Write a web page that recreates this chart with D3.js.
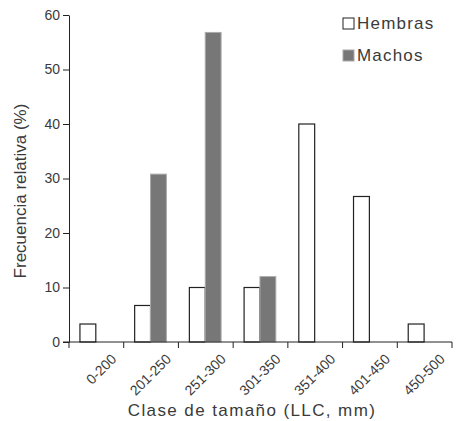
<!DOCTYPE html>
<html>
<head>
<meta charset="utf-8">
<script src="https://cdn.jsdelivr.net/npm/d3@7"></script>
<style>
  html, body { margin: 0; padding: 0; background: #fff; }
  svg { display: block; }
  text { font-family: 'Liberation Sans', Arial, sans-serif; fill: #3a3a3a; }
</style>
</head>
<body>
<div id="chart"></div>
<script>
// Data
const categories = ['0-200', '201-250', '251-300', '301-350', '351-400', '401-450', '450-500'];
const hembras = [3.3, 6.7, 10, 10, 40, 26.7, 3.3];
const machos = [0, 30.8, 56.8, 12, 0, 0, 0];
const yTicks = [0, 10, 20, 30, 40, 50, 60];
const seriesNames = ['Hembras', 'Machos'];

const width = 457, height = 421;
const margin = { top: 15, right: 5, bottom: 79, left: 69 };
const innerW = width - margin.left - margin.right;
const innerH = height - margin.top - margin.bottom;

const svg = d3.select('#chart')
  .append('svg')
  .attr('width', width)
  .attr('height', height);

const g = svg.append('g')
  .attr('transform', `translate(${margin.left}, ${margin.top})`);

// Scales
const x = d3.scaleBand()
  .domain(categories)
  .range([0, innerW])
  .padding(0);

const y = d3.scaleLinear()
  .domain([0, 60])
  .range([innerH, 0]);

const barW = x.bandwidth() * 0.29;
const barOffset = x.bandwidth() * 0.2;

// Hembras bars
g.selectAll('.bar-h')
  .data(hembras)
  .enter()
  .append('rect')
  .attr('class', 'bar-h')
  .attr('x', (d, i) => x(categories[i]) + barOffset)
  .attr('y', d => y(d))
  .attr('width', barW)
  .attr('height', d => innerH - y(d))
  .style('fill', '#fff')
  .style('stroke', '#222')
  .style('stroke-width', 1.2);

// Machos bars (skip empty classes)
const machosData = machos.map((v, i) => ({ cat: categories[i], v })).filter(d => d.v > 0);
g.selectAll('.bar-m')
  .data(machosData)
  .enter()
  .append('rect')
  .attr('class', 'bar-m')
  .attr('x', d => x(d.cat) + barOffset + barW)
  .attr('y', d => y(d.v))
  .attr('width', barW)
  .attr('height', d => innerH - y(d.v))
  .style('fill', '#777')
  .style('stroke', '#aaa')
  .style('stroke-width', 1);

// Y axis
const yAxis = d3.axisLeft(y).tickValues(yTicks).tickSize(6).tickPadding(3).tickSizeOuter(0);
const yG = g.append('g').call(yAxis);
yG.selectAll('text').style('font-size', '14px').style('fill', '#3a3a3a').style('font-family', "'Liberation Sans', Arial, sans-serif");
yG.selectAll('.domain').style('stroke', '#222');
yG.selectAll('.tick line').style('stroke', '#222');

// X axis: tick marks at band boundaries, labels rotated
const edges = categories.map(c => x(c)).concat([innerW]);
const xG = g.append('g').attr('transform', `translate(0, ${innerH})`);
xG.append('line')
  .attr('x1', -6).attr('x2', innerW)
  .attr('y1', 0).attr('y2', 0)
  .style('stroke', '#222');
xG.selectAll('.xtick')
  .data(edges)
  .enter()
  .append('line')
  .attr('class', 'xtick')
  .attr('x1', d => d).attr('x2', d => d)
  .attr('y1', 0).attr('y2', 6)
  .style('stroke', '#222');
xG.selectAll('.xlabel')
  .data(categories)
  .enter()
  .append('text')
  .attr('class', 'xlabel')
  .attr('transform', d => `translate(${x(d) + x.bandwidth() / 2 + 21}, ${18}) rotate(-45)`)
  .attr('text-anchor', 'end')
  .style('font-size', '14px')
  .text(d => d);

// Axis titles
svg.append('text')
  .attr('transform', `translate(26, 191) rotate(-90)`)
  .attr('text-anchor', 'middle')
  .style('font-size', '17px')
  .text('Frecuencia relativa (%)');

svg.append('text')
  .attr('x', 252)
  .attr('y', 416)
  .attr('text-anchor', 'middle')
  .style('font-size', '17px')
  .style('letter-spacing', '1.4px')
  .text('Clase de tamaño (LLC, mm)');

// Legend
const legend = svg.append('g')
  .attr('transform', 'translate(343, 18)');
const legendItems = legend.selectAll('.legend-item')
  .data(seriesNames)
  .enter()
  .append('g')
  .attr('class', 'legend-item')
  .attr('transform', (d, i) => `translate(0, ${i * 32})`);
legendItems.append('rect')
  .attr('width', 11)
  .attr('height', 11)
  .style('fill', (d, i) => i === 0 ? '#fff' : '#777')
  .style('stroke', (d, i) => i === 0 ? '#222' : '#aaa')
  .style('stroke-width', 1);
legendItems.append('text')
  .attr('x', 14)
  .attr('y', 11)
  .style('font-size', '17px')
  .style('letter-spacing', '1.2px')
  .text(d => d);
</script>
</body>
</html>
